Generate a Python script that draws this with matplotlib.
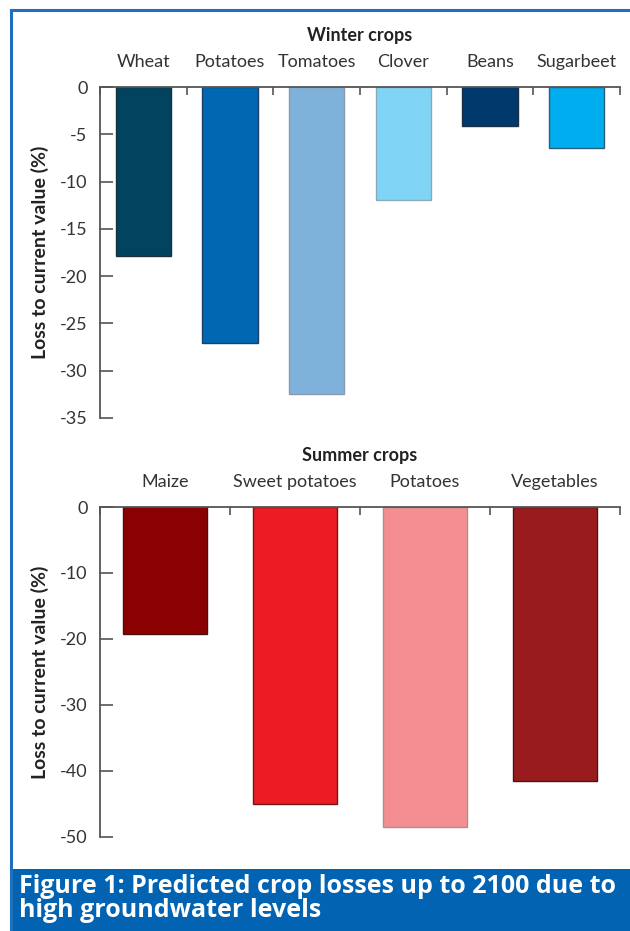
import matplotlib
matplotlib.use("Agg")
import matplotlib.pyplot as plt
from matplotlib.patches import Rectangle
from matplotlib.lines import Line2D

# datos
winter_crops = ["Wheat", "Potatoes", "Tomatoes", "Clover", "Beans", "Sugarbeet"]
winter_loss = [-17.9, -27.1, -32.5, -11.9, -4.1, -6.5]
winter_colors = ["#02445F", "#0068B3", "#7FB2DA", "#80D4F6", "#003A6C", "#00ADEE"]
winter_edges = ["#1c2f3a", "#1f3f66", "#8a9aaa", "#8aaab8", "#1c2f44", "#2a5f7a"]
winter_yticks = [0, -5, -10, -15, -20, -25, -30, -35]

summer_crops = ["Maize", "Sweet potatoes", "Potatoes", "Vegetables"]
summer_loss = [-19.3, -45.0, -48.5, -41.6]
summer_colors = ["#8B0000", "#ED1C24", "#F58E92", "#991B1E"]
summer_edges = ["#4a1010", "#6a1a1a", "#a89090", "#4a1515"]
summer_yticks = [0, -10, -20, -30, -40, -50]

caption = "Figure 1: Predicted crop losses up to 2100 due to\nhigh groundwater levels"

plt.rcParams['font.family'] = ['Lato', 'DejaVu Sans']

W, H = 630, 931
fig = plt.figure(figsize=(W / 100, H / 100), dpi=100)
axis_color = "#555555"
text_color = "#333333"


def panel(rect, crops, values, colors, edges, yticks, ymin, title):
    ax = fig.add_axes(rect)
    n = len(crops)
    x = list(range(1, n + 1))
    ax.bar(x, values, width=0.64, color=colors, edgecolor=edges, linewidth=1.0, zorder=2)
    ax.set_xlim(0.5, n + 0.5)
    ax.set_ylim(ymin, 0)

    for side in ["bottom", "right"]:
        ax.spines[side].set_visible(False)
    for side in ["top", "left"]:
        ax.spines[side].set_color(axis_color)
        ax.spines[side].set_linewidth(1.3)

    # ticks en los limites de categoria, etiquetas en el centro
    ax.xaxis.tick_top()
    ax.set_xticks([i + 0.5 for i in range(n + 1)])
    ax.set_xticklabels([])
    ax.set_xticks(x, minor=True)
    ax.set_xticklabels(crops, minor=True, fontsize=13, color=text_color)
    ax.tick_params(axis="x", which="major", direction="in", length=6, width=1.2, color=axis_color)
    ax.tick_params(axis="x", which="minor", length=0, pad=12)

    ax.set_yticks(yticks)
    ax.set_yticklabels([str(t) for t in yticks], fontsize=13, color=text_color)
    ax.tick_params(axis="y", direction="in", length=9, width=1.2, color=axis_color, pad=9)
    ax.set_ylabel("Loss to current value (%)", fontsize=14, fontweight="bold",
                  color="#222222", labelpad=8)

    ax.text(0.5, 1.0, title, transform=ax.transAxes, ha="center", va="bottom",
            fontsize=13, fontweight="bold", color="#222222")
    return ax


ax1 = panel([100 / W, 1 - 418 / H, 520 / W, 331 / H], winter_crops, winter_loss,
            winter_colors, winter_edges, winter_yticks, -35, "Winter crops")
ax1.texts[0].set_position((0.5, 1.0 + 43 / 331))

ax2 = panel([100 / W, 1 - 836.7 / H, 520 / W, 329.7 / H], summer_crops, summer_loss,
            summer_colors, summer_edges, summer_yticks, -50, "Summer crops")
ax2.texts[0].set_position((0.5, 1.0 + 43 / 329.7))

# marco azul y franja del pie de figura
blue = "#1F6FC0"
fig.add_artist(Line2D([11 / W, 11 / W], [0, 1 - 10 / H], color=blue, linewidth=2.2))
fig.add_artist(Line2D([11 / W, 1], [1 - 10 / H, 1 - 10 / H], color=blue, linewidth=2.2))
fig.add_artist(Rectangle((10 / W, 0), 1 - 10 / W, 62 / H, transform=fig.transFigure,
                         facecolor="#0263B2", edgecolor="none"))
fig.text(19 / W, 1 - 874 / H, caption, ha="left", va="top", color="white",
         fontsize=18, fontweight="bold", linespacing=0.97,
         family=["Open Sans", "DejaVu Sans"])

fig.savefig("out.png", dpi=100, facecolor="white")
